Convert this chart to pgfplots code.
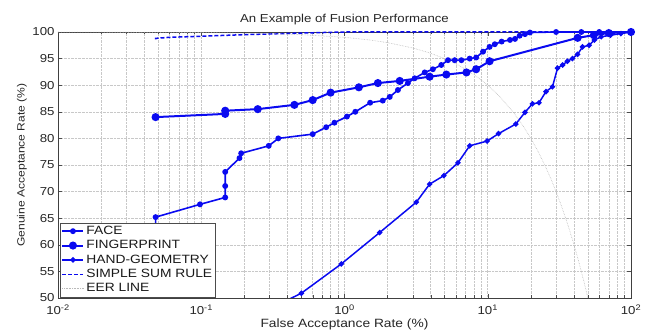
\documentclass[border=0pt]{standalone}
\usepackage{fontspec}
\setmainfont{Liberation Sans}[FakeStretch=1.15]
\usepackage{pgfplots}
\pgfplotsset{compat=1.18}
\usetikzlibrary{calc}
\definecolor{mblue}{RGB}{10,10,240}
\definecolor{gridgray}{RGB}{200,200,200}
\begin{document}
\begin{tikzpicture}
\begin{axis}[
  scale only axis, width=573bp, height=266bp,
  xmode=log, xmin=0.01, xmax=100, ymin=50, ymax=100,
  xtick={0.01,0.1,1,10,100},
  xticklabels={10\textsuperscript{-2},10\textsuperscript{-1},10\textsuperscript{0},10\textsuperscript{1},10\textsuperscript{2}},
  ytick={50,55,...,100},
  /pgf/number format/assume math mode=true,
  tick align=inside, xtick pos=both, ytick pos=both,
  major tick length=4bp, minor tick length=2.5bp,
  every tick/.style={black!70, line width=0.4bp},
  grid=both,
  major grid style={densely dotted, gridgray, line width=0.5bp},
  minor grid style={densely dotted, gridgray, line width=0.5bp},
  axis line style={black!75, line width=0.6bp},
  tick label style={font=\fontsize{11.5bp}{12bp}\selectfont, text=black!85},
  xticklabel style={yshift=-3bp},
  title={An Example of Fusion Performance},
  title style={at={(axis description cs:0.5,1.012)}, anchor=base, font=\fontsize{11.5bp}{13bp}\selectfont, text=black!85},
  xlabel={False Acceptance Rate (\%)},
  xlabel style={at={(axis description cs:0.5,-0.1128)}, anchor=base, font=\fontsize{12bp}{13bp}\selectfont, text=black!85},
  ylabel={Genuine Acceptance Rate (\%)},
  ylabel style={at={(axis description cs:-0.0628,0.5)}, anchor=center, font=\fontsize{10.5bp}{12bp}\selectfont, text=black!85},
  legend style={at={(axis description cs:0.003,0.003)}, anchor=south west, draw=black!70, line width=0.5bp, fill=white,
    font=\fontsize{12bp}{13bp}\selectfont, inner sep=1.5bp, row sep=0.5bp, text=black!90},
  legend cell align=left,
  legend image code/.code={\draw[mark repeat=2,mark phase=2,#1] plot coordinates {(0bp,0bp) (10.5bp,0bp) (21bp,0bp)};},
]
% FACE
\addplot[mblue, line width=1.6bp, mark=*, mark size=2.1bp, mark options={solid, fill=mblue}] coordinates {
(0.048,40) (0.048,65.2) (0.098,67.6) (0.147,68.9) (0.147,71.05) (0.147,73.7) (0.185,76.3) (0.19,77.2)
(0.296,78.6) (0.345,80.0) (0.6,80.8) (0.745,82.1) (0.851,82.95) (1.04,84.1) (1.19,85.0) (1.51,86.7)
(1.85,87.1) (2.07,87.8) (2.36,89.1) (2.77,90.4) (3.09,91.3) (3.63,92.4) (4.14,93.0) (4.74,93.8)
(5.28,94.7) (5.88,94.7) (6.55,94.7) (7.48,95.0) (8.3,95.2) (9.27,96.3) (10.3,97.2) (11.2,97.7)
(12.5,98.2) (14.3,98.5) (15.5,98.7) (16.7,99.3) (18.2,99.6) (19.7,99.9) (30,100) (45,100) (60,100) (100,100)
};
\addlegendentry{FACE}
% FINGERPRINT
\addplot[mblue, line width=2bp, mark=*, mark size=3bp, mark options={solid, fill=mblue}] coordinates {
(0.048,84.0) (0.147,84.6) (0.147,85.2) (0.248,85.5) (0.447,86.3) (0.6,87.2) (0.8,88.6) (1.26,89.6)
(1.71,90.4) (2.43,90.8) (3.93,91.6) (5.14,92.0) (7.1,92.4) (8.3,93.0) (10.3,94.5) (42.4,98.9)
(55,99.4) (70,99.8) (100,100)
};
\addlegendentry{FINGERPRINT}
% HAND-GEOMETRY
\addplot[mblue, line width=1.5bp, mark=*, mark size=1.9bp, mark options={solid, fill=mblue}] coordinates {
(0.33,48.5) (0.50,50.9) (0.95,56.4) (1.76,62.3) (3.17,68.0) (3.93,71.4) (4.94,73.0) (6.19,75.4)
(7.48,78.6) (9.9,79.5) (11.9,80.9) (15.7,82.7) (18.2,84.9) (20.5,86.5) (22.8,86.7) (25.5,88.8)
(28.3,89.7) (30.7,93.2) (33.3,93.8) (36,94.5) (39,95.0) (42.4,95.8) (45.9,97.2) (51,97.5)
(55.5,98.5) (62,99.1) (72,99.4) (85,99.7) (100,100)
};
\addlegendentry{HAND-GEOMETRY}
% SIMPLE SUM RULE
\addplot[mblue, line width=1.5bp, dash pattern=on 4bp off 2bp] coordinates {
(0.048,98.6) (0.048,98.8) (0.06,99.0) (0.1,99.2) (0.2,99.5) (0.5,99.8) (1,100) (100,100)
};
\addlegendentry{SIMPLE SUM RULE}
% EER LINE
\addplot[gray!55, line width=0.6bp, densely dotted] coordinates {
(0.01,99.99) (0.1,99.9) (0.3,99.7) (0.5,99.5) (1,99) (1.5,98.5) (2,98) (3,97) (4,96) (5,95) (6,94)
(7,93) (8,92) (10,90) (12,88) (15,85) (17.5,82.5) (20,80) (22.5,77.5) (25,75) (27.5,72.5) (30,70)
(32.5,67.5) (35,65) (37.5,62.5) (40,60) (42.5,57.5) (45,55) (47.5,52.5) (50,50)
};
\addlegendentry{EER LINE}
\end{axis}
\pgfresetboundingbox
\path ($(current axis.south west)+(-58bp,-32bp)$) rectangle ($(current axis.north east)+(14bp,32bp)$);
\end{tikzpicture}
\end{document}
